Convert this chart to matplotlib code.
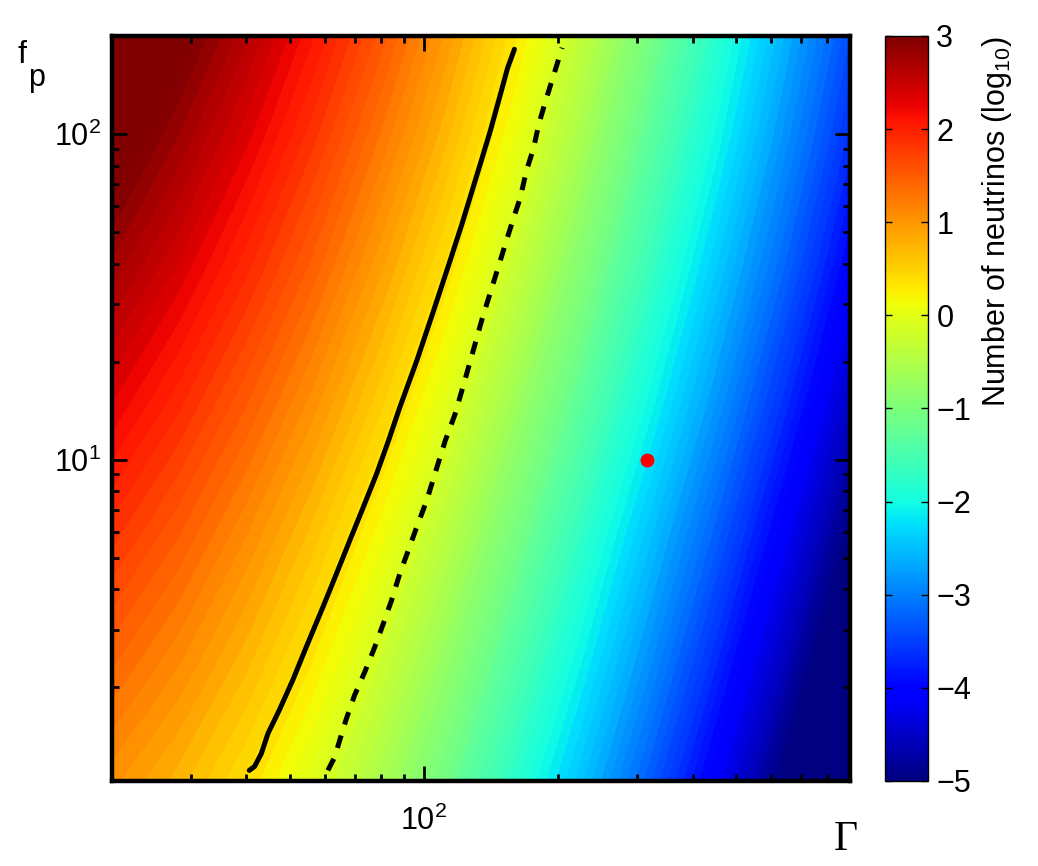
import numpy as np
import matplotlib
matplotlib.use('Agg')
import matplotlib.pyplot as plt
from matplotlib import cm
from matplotlib.colors import Normalize

plt.rcParams['font.family'] = ['Liberation Sans', 'DejaVu Sans']
plt.rcParams['mathtext.fontset'] = 'custom'
plt.rcParams['mathtext.rm'] = 'Liberation Sans'
plt.rcParams['mathtext.it'] = 'Liberation Sans:italic'

# grid: Lorentz factor (columns) and f_p (rows)
gamma = [20, 28, 40, 56, 80, 112, 160, 224, 320, 450, 630, 900]
fp = [1, 2.5, 6, 15, 40, 100, 200]

# log10 number of neutrinos, one list per f_p row
n_fp1 = [1.02, 0.74, 0.37, -0.05, -0.57, -1.12, -1.79, -2.48, -3.29, -4.13, -5.03, -6.06]
n_fp2_5 = [1.44, 1.14, 0.75, 0.32, -0.20, -0.75, -1.40, -2.07, -2.85, -3.66, -4.51, -5.49]
n_fp6 = [1.85, 1.52, 1.11, 0.67, 0.15, -0.40, -1.04, -1.70, -2.46, -3.24, -4.06, -4.99]
n_fp15 = [2.30, 1.94, 1.51, 1.06, 0.53, -0.02, -0.66, -1.30, -2.04, -2.80, -3.60, -4.49]
n_fp40 = [2.78, 2.40, 1.94, 1.48, 0.93, 0.38, -0.26, -0.90, -1.63, -2.38, -3.15, -4.02]
n_fp100 = [3.22, 2.81, 2.34, 1.85, 1.29, 0.73, 0.09, -0.56, -1.29, -2.02, -2.79, -3.64]
n_fp200 = [3.54, 3.11, 2.62, 2.12, 1.55, 0.97, 0.32, -0.33, -1.06, -1.79, -2.56, -3.40]

# solid curve
solid_gamma = [40.6, 41.7, 43.2, 44.7, 47.4, 50.8, 54.5, 59.4, 63.7, 68.2, 73.1, 78.3,
               83.2, 88.3, 96.3, 105, 114.3, 121.6, 133.6, 140.7, 148.2, 153.8, 159.4]
solid_fp = [1.11, 1.14, 1.25, 1.44, 1.70, 2.10, 2.66, 3.53, 4.47, 5.65, 7.14, 9.04,
            11.4, 14.5, 20.1, 28.6, 40.7, 52.9, 80.7, 102, 132, 159, 182]

# dashed curve
dashed_gamma = [60.9, 63.1, 64.8, 67.0, 69.9, 73.7, 77.6, 81.1, 84.6, 88.3, 92.2, 96.3, 101.4,
                106.9, 111.5, 117.4, 125.8, 134.9, 145.7, 157.4, 164.3, 169.5, 176.0, 180.7,
                187.1, 195.3, 203.9]
dashed_fp = [1.11, 1.22, 1.38, 1.60, 1.89, 2.23, 2.66, 3.14, 3.70, 4.47, 5.26, 6.20, 7.49,
             9.47, 11.4, 13.8, 19.2, 27.0, 37.9, 53.3, 63.7, 76.9, 90.6, 107,
             126, 152, 184]

# marked point
dot_gamma = [316]
dot_fp = [10]

fig = plt.figure(figsize=(10.38, 8.66), dpi=100)
ax = fig.add_axes([0.1079, 0.0982, 0.711, 0.8603])

Z = np.array([n_fp1, n_fp2_5, n_fp6, n_fp15, n_fp40, n_fp100, n_fp200])
LG, LF = np.meshgrid(np.log10(gamma), np.log10(fp))
norm = Normalize(-5, 3)
ax.contourf(LG, LF, Z, levels=np.arange(-6.2, 3.75, 0.1), cmap='jet', norm=norm)

ax.plot(np.log10(solid_gamma), np.log10(solid_fp), color='k', lw=3.6,
        solid_capstyle='round', solid_joinstyle='round')
ax.plot(np.log10(dashed_gamma), np.log10(dashed_fp), color='k', lw=3.6,
        linestyle=(0, (2.6, 2.3)))
ax.plot(np.log10(dot_gamma), np.log10(dot_fp), 'o', color='red', ms=10, mec='none')

ax.set_xlim(np.log10(20), np.log10(900))
ax.set_ylim(np.log10(1.03), np.log10(200))

ax.set_xticks([2])
ax.set_xticklabels(['$\\mathregular{10^{2}}$'])
ax.set_xticks(np.log10([30, 40, 50, 60, 70, 80, 90, 200, 300, 400, 500, 600, 700, 800]), minor=True)
ax.set_yticks([1, 2])
ax.set_yticklabels(['$\\mathregular{10^{1}}$', '$\\mathregular{10^{2}}$'])
ax.set_yticks(np.log10([2, 3, 4, 5, 6, 7, 8, 9, 20, 30, 40, 50, 60, 70, 80, 90]), minor=True)

ax.tick_params(which='both', direction='in', top=True, right=True, width=2, labelsize=22)
ax.tick_params(which='major', length=11)
ax.tick_params(which='minor', length=5)
ax.tick_params(axis='x', which='major', pad=18)
ax.tick_params(axis='y', which='major', pad=8)
for s in ax.spines.values():
    s.set_linewidth(3.2)

cax = fig.add_axes([0.8526, 0.0982, 0.0414, 0.8603])
sm = cm.ScalarMappable(norm=norm, cmap='jet')
cb = fig.colorbar(sm, cax=cax, ticks=range(-5, 4))
cb.outline.set_linewidth(1)
cax.tick_params(direction='in', left=True, right=True, length=5, width=1, labelsize=22, pad=6)
cb.set_label('Number of neutrinos (log$_{10}$)', fontsize=22, labelpad=6, loc='top')

fig.text(18 / 1038, 1 - 63 / 866, 'f', fontsize=23, ha='left', va='baseline')
fig.text(28 / 1038, 1 - 86 / 866, 'p', fontsize=22, ha='left', va='baseline')
fig.text(846 / 1038, 1 - 840 / 866, 'Γ', fontsize=30, family='Liberation Serif',
         ha='center', va='center')

fig.savefig('out.png', dpi=100)
